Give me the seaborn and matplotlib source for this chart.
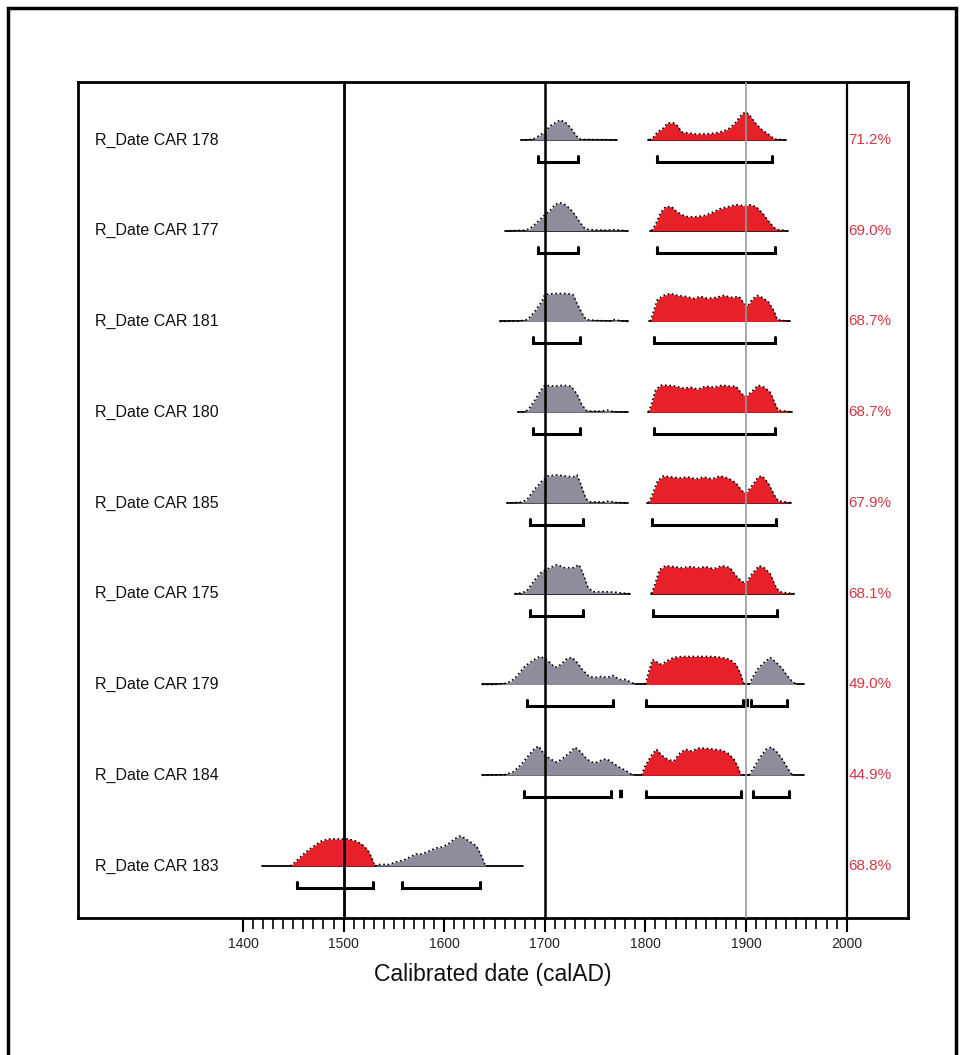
import numpy as np
import matplotlib
matplotlib.use("Agg")
import matplotlib.pyplot as plt
import seaborn as sns
from matplotlib.patches import Rectangle
from matplotlib.ticker import FixedLocator

sns.set_theme(style="white")
plt.rcParams['font.family'] = ['Liberation Sans', 'DejaVu Sans']

NaN = np.nan

# ---------------- data ----------------
row_labels = ["R_Date CAR 178", "R_Date CAR 177", "R_Date CAR 181",
              "R_Date CAR 180", "R_Date CAR 185", "R_Date CAR 175",
              "R_Date CAR 179", "R_Date CAR 184", "R_Date CAR 183"]
percent_labels = ["71.2%", "69.0%", "68.7%", "68.7%", "67.9%",
                  "68.1%", "49.0%", "44.9%", "68.8%"]

# grey (outside the highlighted range) probability profiles; NaN separates blobs
gray_x = [
    [1676, 1688, 1692, 1700, 1705, 1710, 1715, 1720, 1725, 1730, 1734, 1740, 1760, 1772],
    [1665, 1680, 1685, 1692, 1700, 1705, 1710, 1715, 1720, 1725, 1730, 1735, 1740, 1745, 1760, 1770, 1780],
    [1655, 1675, 1683, 1690, 1697, 1700, 1710, 1720, 1728, 1732, 1737, 1741, 1750, 1765, 1770, 1775, 1783],
    [1673, 1680, 1684, 1690, 1696, 1700, 1710, 1718, 1726, 1732, 1737, 1742, 1755, 1762, 1768, 1783],
    [1662, 1675, 1682, 1690, 1697, 1703, 1712, 1720, 1728, 1732, 1736, 1741, 1745, 1758, 1764, 1770, 1783],
    [1670, 1678, 1683, 1690, 1697, 1705, 1712, 1720, 1728, 1734, 1738, 1743, 1748, 1760, 1770, 1778, 1785],
    [1638, 1650, 1660, 1666, 1672, 1680, 1688, 1695, 1700, 1705, 1710, 1716, 1722, 1727, 1732, 1738,
     1744, 1750, 1756, 1762, 1768, 1774, 1780, 1786, 1790, NaN,
     1903, 1907, 1912, 1918, 1924, 1930, 1936, 1940, 1945, 1950],
    [1638, 1660, 1668, 1676, 1684, 1690, 1694, 1700, 1706, 1712, 1718, 1724, 1730, 1735, 1740, 1746,
     1752, 1758, 1762, 1768, 1774, 1780, 1786, 1789, NaN,
     1903, 1908, 1914, 1920, 1925, 1930, 1936, 1942, 1946],
    [1531, 1535, 1545, 1552, 1560, 1566, 1572, 1578, 1585, 1592, 1598, 1604, 1610, 1616, 1620, 1626,
     1632, 1637, 1641],
]
gray_h = [
    [0, 0.5, 3, 8, 14, 17, 20, 18, 13, 6, 1, 0.5, 0.3, 0],
    [0, 0.5, 2, 8, 16, 20, 26, 28, 26, 22, 16, 8, 2, 1, 0.5, 1, 0],
    [0, 0.5, 2, 10, 20, 27, 28, 28, 27, 18, 8, 2, 1, 0.5, 2, 0.5, 0],
    [0, 0.5, 3, 12, 22, 27, 26, 27, 26, 18, 7, 1, 1, 2, 0.5, 0],
    [0, 0.5, 3, 14, 22, 27, 28, 27, 26, 28, 18, 4, 1, 1, 2, 0.5, 0],
    [0, 1, 4, 14, 22, 26, 29, 26, 26, 29, 20, 6, 2, 2, 1.5, 0.5, 0],
    [0, 0, 1, 3, 8, 18, 24, 28, 26, 22, 17, 20, 26, 27, 22, 14,
     8, 7, 8, 7, 9, 5, 5, 2, 0, NaN,
     0, 8, 16, 22, 27, 22, 16, 10, 4, 0],
    [0, 0.5, 3, 10, 20, 27, 29, 20, 16, 13, 17, 22, 28, 24, 18, 13,
     13, 16, 16, 12, 8, 5, 1, 0, NaN,
     0, 8, 18, 26, 28, 24, 16, 6, 0],
    [0, 1.5, 1.5, 4, 6, 9, 12, 12, 15, 18, 19, 22, 27, 30, 28, 24, 20, 10, 0],
]

# red (highlighted range) probability profiles
red_x = [
    [1804, 1808, 1812, 1818, 1822, 1828, 1832, 1836, 1842, 1850, 1860, 1870, 1878, 1884, 1890, 1896,
     1900, 1904, 1910, 1916, 1922, 1928, 1932, 1940],
    [1806, 1810, 1815, 1820, 1826, 1830, 1836, 1842, 1850, 1858, 1866, 1874, 1882, 1890, 1898, 1904,
     1910, 1916, 1922, 1928, 1932, 1940],
    [1805, 1808, 1812, 1818, 1825, 1832, 1840, 1848, 1855, 1862, 1870, 1878, 1886, 1893, 1898, 1902,
     1906, 1911, 1916, 1922, 1928, 1931, 1936, 1944],
    [1803, 1806, 1810, 1815, 1822, 1830, 1838, 1845, 1852, 1860, 1868, 1876, 1884, 1890, 1896, 1900,
     1905, 1912, 1918, 1924, 1929, 1932, 1940, 1946],
    [1803, 1806, 1812, 1818, 1826, 1834, 1842, 1850, 1858, 1866, 1874, 1882, 1890, 1896, 1900, 1905,
     1912, 1916, 1922, 1928, 1932, 1940, 1945],
    [1806, 1809, 1814, 1820, 1828, 1836, 1844, 1852, 1860, 1868, 1876, 1884, 1890, 1896, 1900, 1906,
     1913, 1918, 1924, 1929, 1933, 1940, 1948],
    [1800, 1803, 1807, 1812, 1816, 1822, 1828, 1836, 1846, 1856, 1866, 1876, 1884, 1890, 1894, 1897, 1898],
    [1796, 1800, 1806, 1811, 1816, 1822, 1828, 1834, 1840, 1846, 1852, 1860, 1868, 1876, 1882, 1888,
     1892, 1895],
    [1447, 1452, 1458, 1465, 1472, 1478, 1485, 1495, 1505, 1512, 1518, 1524, 1528, 1531],
]
red_h = [
    [0, 3, 8, 12, 17, 17, 14, 8, 7, 6, 6, 7, 9, 12, 18, 26, 28, 24, 16, 10, 6, 1, 0.5, 0],
    [0, 6, 18, 24, 24, 20, 16, 14, 14, 15, 18, 22, 24, 26, 25, 26, 24, 18, 10, 3, 1, 0],
    [0, 10, 22, 26, 28, 26, 25, 23, 25, 23, 24, 26, 24, 25, 18, 16, 22, 26, 24, 20, 10, 2, 1, 0],
    [0, 8, 22, 27, 27, 26, 24, 25, 23, 26, 25, 27, 26, 26, 18, 16, 20, 27, 25, 20, 8, 2, 1, 0],
    [0, 6, 22, 27, 26, 25, 26, 24, 26, 24, 27, 25, 20, 12, 10, 16, 26, 27, 20, 8, 2, 1, 0],
    [0, 8, 24, 28, 27, 26, 27, 26, 27, 25, 28, 26, 18, 12, 11, 20, 28, 26, 20, 8, 2, 1, 0],
    [0, 12, 25, 22, 20, 24, 27, 28, 28, 28, 28, 27, 25, 20, 12, 3, 0],
    [0, 10, 20, 26, 20, 16, 14, 22, 26, 24, 27, 27, 26, 25, 22, 16, 8, 0],
    [0, 4, 10, 16, 21, 25, 27, 27, 27, 25, 22, 16, 8, 0],
]

# thin baseline segments under each distribution (start, end)
baseline_segments = [
    [(1676, 1772), (1803, 1940)],
    [(1660, 1783), (1805, 1942)],
    [(1655, 1783), (1804, 1944)],
    [(1673, 1783), (1803, 1946)],
    [(1662, 1783), (1802, 1945)],
    [(1670, 1785), (1806, 1948)],
    [(1638, 1958)],
    [(1638, 1958)],
    [(1419, 1678)],
]

# 95.4% range brackets (start, end)
bracket_ranges = [
    [(1693, 1733), (1812, 1926)],
    [(1693, 1733), (1812, 1929)],
    [(1688, 1735), (1809, 1929)],
    [(1688, 1735), (1809, 1929)],
    [(1685, 1738), (1807, 1930)],
    [(1685, 1738), (1808, 1931)],
    [(1682, 1768), (1801, 1897), (1899, 1903), (1905, 1941)],
    [(1679, 1766), (1774, 1778), (1801, 1895), (1907, 1943)],
    [(1454, 1529), (1558, 1636)],
]

major_ticks = [1400, 1500, 1600, 1700, 1800, 1900, 2000]
x_label = "Calibrated date (calAD)"

# ---------------- styling ----------------
RED = "#e8202a"
GRAY = "#8f8d9c"
PCT_COLOR = "#cf3a44"
H_SCALE = 1 / 90.75          # profile height units -> row units
BRACKET_OFF = 22 / 90.75
BRACKET_TICK = 6 / 90.75

fig = plt.figure(figsize=(9.6, 10.55), dpi=100)
ax = fig.add_axes([78 / 960, 1 - 918 / 1055, (908 - 78) / 960, (918 - 82) / 1055])
ax.set_xlim(1236, 2061)
ax.set_ylim(-0.573, 8.639)


def split_nan(xs, hs):
    xs = np.asarray(xs, float)
    hs = np.asarray(hs, float)
    cuts = np.where(np.isnan(xs))[0]
    starts = np.r_[0, cuts + 1]
    ends = np.r_[cuts, len(xs)]
    return [(xs[s:e], hs[s:e]) for s, e in zip(starts, ends)]


n = len(row_labels)
for i in range(n):
    y0 = (n - 1) - i
    for s, e in baseline_segments[i]:
        ax.plot([s, e], [y0, y0], color="black", lw=1.3, zorder=2)
    for xs, hs, col in [(gray_x[i], gray_h[i], GRAY), (red_x[i], red_h[i], RED)]:
        for bx, bh in split_nan(xs, hs):
            top = y0 + bh * H_SCALE
            ax.fill_between(bx, y0, top, color=col, lw=0, zorder=3)
            sns.lineplot(x=bx, y=top, ax=ax, color="black", lw=1.2,
                         linestyle=(0, (1, 1.6)), sort=False, estimator=None,
                         zorder=4, legend=False)
    yb = y0 - BRACKET_OFF
    for s, e in bracket_ranges[i]:
        if e - s <= 5:
            # very short range: drawn as a small solid block
            ax.plot([s, e], [yb + BRACKET_TICK / 2, yb + BRACKET_TICK / 2],
                    color="black", lw=6, solid_capstyle="butt", zorder=4)
        else:
            ax.plot([s, s, e, e], [yb + BRACKET_TICK, yb, yb, yb + BRACKET_TICK],
                    color="black", lw=2.2, solid_joinstyle="miter", zorder=4)
    ax.text(0.0205, y0, row_labels[i], transform=ax.get_yaxis_transform(),
            ha="left", va="center", fontsize=11.5, color="#111111")
    ax.text(0.954, y0, percent_labels[i], transform=ax.get_yaxis_transform(),
            ha="center", va="center", fontsize=11, color=PCT_COLOR)

# reference vertical lines
ax.axvline(1500, color="black", lw=2.0, zorder=5)
ax.axvline(1700, color="black", lw=1.8, zorder=5)
ax.axvline(1900, color="#9a9a9a", lw=1.2, zorder=5)
ax.axvline(2000, color="black", lw=1.6, zorder=5)

# axes styling
for sp in ax.spines.values():
    sp.set_visible(True)
    sp.set_color("black")
    sp.set_linewidth(2.0)
ax.set_yticks([])
ax.xaxis.set_major_locator(FixedLocator(major_ticks))
ax.xaxis.set_minor_locator(FixedLocator([v for v in range(1400, 2001, 10) if v % 100]))
ax.set_xticklabels([str(t) for t in major_ticks], fontsize=10, color="#222222")
ax.tick_params(axis="x", which="major", direction="out", length=10, width=1.5,
               color="black", bottom=True, pad=4)
ax.tick_params(axis="x", which="minor", direction="out", length=8, width=1.2,
               color="black", bottom=True)
ax.set_xlabel(x_label, fontsize=16.5, labelpad=8, color="#111111")
ax.set_ylabel("")
ax.grid(False)

# outer frame of the figure
fig.add_artist(Rectangle((8 / 960, -0.02), (956 - 8) / 960, 1 - 8 / 1055 + 0.02,
                         transform=fig.transFigure, fill=False, lw=2.5,
                         edgecolor="black"))

fig.savefig("out.png", dpi=100)
